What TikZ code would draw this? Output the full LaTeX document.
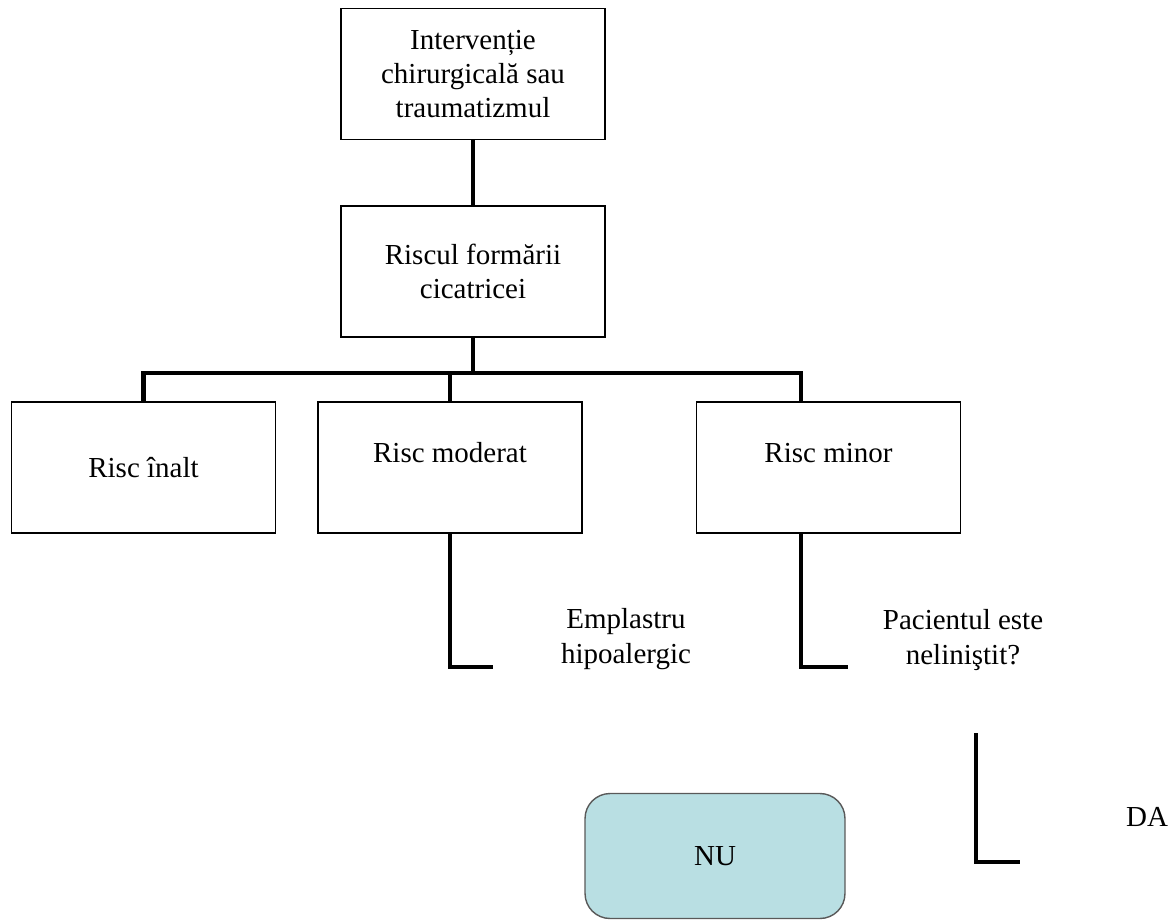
\documentclass[tikz,border=0pt]{standalone}
\usepackage{fontspec}
\setmainfont{Liberation Serif}
\usetikzlibrary{positioning}

\definecolor{nufill}{HTML}{B9DFE3}

\tikzset{
  box/.style={draw, line width=1pt, minimum width=5.28cm, minimum height=2.62cm,
    align=center, inner sep=2pt},
  upper/.style={text depth=0.6cm},
  lbl/.style={align=center, inner sep=1pt},
  link/.style={line width=2.8pt},
}

\begin{document}
\begin{tikzpicture}[x=0.02cm, y=-0.02cm,
  every node/.style={font=\fontsize{16.5}{19.5}\selectfont}]
\useasboundingbox (0,0) rectangle (1173,920);

\node[box] (interv) at (473,74) {Intervenție\\chirurgicală sau\\traumatizmul};
\node[box, below=1.3cm of interv] (riscf) {Riscul formării\\cicatricei};

\node[box] (inalt) at (143.5,467.5) {Risc înalt};
\node[box, upper] (moderat) at (450,467.5) {Risc moderat};
\node[box, upper] (minor) at (828.5,467.5) {Risc minor};

\node[lbl] (emplastru) at (626,639) {Emplastru\\hipoalergic};
\node[lbl] (nelinistit) at (963,640) {Pacientul este\\neliniştit?};

\node[draw=black!65, line width=0.8pt, fill=nufill, rounded corners=0.5cm,
  minimum width=5.2cm, minimum height=2.5cm] (nu) at (715,856) {NU};
\node[lbl] (da) at (1147,817) {DA};

\coordinate (bus) at (473,373);
\coordinate (busR) at (801,373);
\coordinate (emEnd) at (493,667);
\coordinate (paEnd) at (848,667);
\coordinate (daTop) at (976,733);
\coordinate (daEnd) at (1020,862);

\draw[link]
    (interv) -- (riscf)
    (riscf) -- (bus)
    (inalt.north) |- (busR) -- (busR |- minor.north)
    (moderat.north) -- (moderat.north |- bus)
    (moderat.south) |- (emEnd)
    (minor.south -| busR) |- (paEnd)
    (daTop) |- (daEnd)
    ;
\end{tikzpicture}
\end{document}
